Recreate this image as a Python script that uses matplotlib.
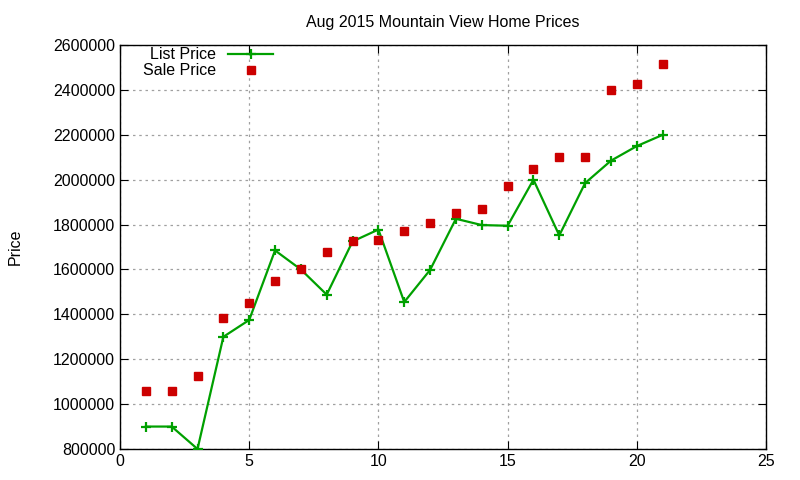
import matplotlib
matplotlib.use("Agg")
import matplotlib.pyplot as plt

plt.rcParams['font.family'] = ['Liberation Sans', 'DejaVu Sans']

house = list(range(1, 22))
list_price = [900000, 900000, 800000, 1300000, 1375000, 1685000, 1600000, 1488000,
              1725000, 1778000, 1455000, 1598000, 1826000, 1798000, 1795000, 2000000,
              1752000, 1985000, 2085000, 2150000, 2200000]
sale_price = [1060000, 1060000, 1126000, 1385000, 1452000, 1549000, 1600000, 1678000,
              1727000, 1731000, 1771000, 1807000, 1850000, 1868000, 1974000, 2047000,
              2100000, 2100000, 2398000, 2425000, 2518000]

fig = plt.figure(figsize=(8, 4.8), dpi=100)
ax = fig.add_axes([0.15, 0.0646, 0.8075, 0.8414])

ax.plot(house, list_price, color='#00a000', lw=1.6, marker='+', ms=6.5, mew=1.6,
        label='List Price', zorder=3)
ax.plot(house, sale_price, ls='none', color='#cc0000', marker='s', ms=5.6,
        label='Sale Price', zorder=4)

ax.set_xlim(0, 25)
ax.set_ylim(800000, 2600000)
ax.set_xticks(range(0, 26, 5))
ax.set_yticks(range(800000, 2600001, 200000))
ax.ticklabel_format(style='plain', axis='y', useOffset=False)
ax.grid(True, color='#a0a0a0', ls=(0, (2, 3)), lw=0.9)
ax.tick_params(direction='in', top=True, right=True, labelsize=11.5, length=6)
for s in ax.spines.values():
    s.set_linewidth(1.0)

ax.set_title('Aug 2015 Mountain View Home Prices', fontsize=11.5, pad=13)
ax.set_ylabel('Price', fontsize=11.5, labelpad=22)

leg = ax.legend(loc='upper left', markerfirst=False, frameon=False, fontsize=11.5,
                handlelength=2.8, borderaxespad=0.0, labelspacing=0.05,
                bbox_to_anchor=(0.025, 1.01))
for t in leg.get_texts():
    t.set_ha('right')

fig.savefig('out.png', dpi=100)
